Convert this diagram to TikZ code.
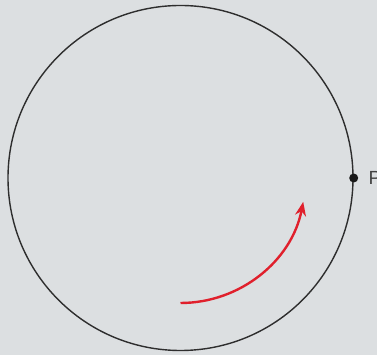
\documentclass[tikz,border=0pt]{standalone}
\usepackage{fontspec}
\setmainfont{Liberation Sans}
\usetikzlibrary{arrows.meta}
\definecolor{bg}{HTML}{DCDFE1}
\definecolor{ink}{HTML}{2E2E2E}
\definecolor{redarrow}{HTML}{E0202C}
\tikzset{
  rim/.style={circle, draw=ink, line width=1.4pt, minimum size=345pt, inner sep=0pt},
  pdot/.style={circle, fill=black!90, minimum size=9pt, inner sep=0pt},
  plabel/.style={font=\fontsize{19}{19}\selectfont, text=ink!90, anchor=west, inner sep=0pt},
  motion/.style={draw=redarrow, line width=2.4pt, -{Stealth[length=14pt,width=11pt]}}
}
\begin{document}
\begin{tikzpicture}[x=1pt,y=1pt]
\clip (0,0) rectangle (377,355);
\fill[bg] (0,0) rectangle (377,355);
\node[rim] (circ) at (180.5,177) {};
\node[pdot] (P) at (circ.east) {};
\node[plabel] (Plab) at ([xshift=10pt]P.east) {P};
\draw[motion] ([shift={(-90:125)}]circ.center) arc[start angle=-90, end angle=-11, radius=125];
\end{tikzpicture}
\end{document}
